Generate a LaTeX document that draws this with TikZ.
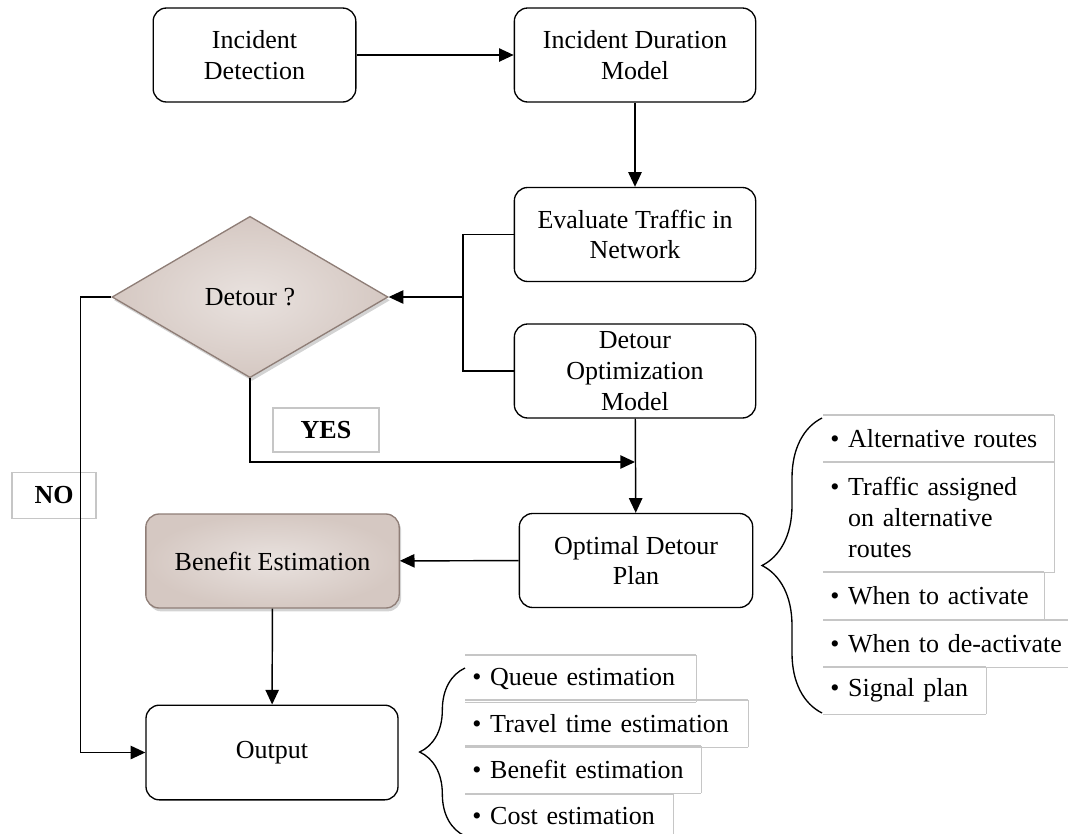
\documentclass[tikz,border=0pt]{standalone}
\usepackage{fontspec}
\setmainfont{Liberation Serif}
\usetikzlibrary{arrows.meta,shapes.geometric,shadows,decorations.pathreplacing}

\definecolor{taupe}{HTML}{D5C8C2}
\definecolor{taupelight}{HTML}{E9E2DF}
\definecolor{taupeline}{HTML}{8F7E77}
\definecolor{itemgray}{HTML}{C6C6C6}

\begin{document}
\begin{tikzpicture}
      [x=0.75pt,y=-0.75pt,
       every node/.style={font=\fontsize{19.5}{23}\selectfont},
       >={Triangle[length=11pt,width=10pt]},
       line width=1.1pt,
       box/.style={draw,rounded corners=10pt,align=center,minimum width=181pt,minimum height=70.5pt,line width=1pt},
       shadedbox/.style={box,draw=taupeline,shading=radial,inner color=taupelight,outer color=taupe,
         drop shadow={shadow xshift=1.5pt,shadow yshift=-2.5pt,opacity=0.35}},
       tag/.style={draw=itemgray,line width=0.8pt,font=\fontsize{19.5}{23}\selectfont\bfseries},
       itemline/.style={draw=itemgray,line width=0.8pt},
       item/.style={anchor=north west,inner xsep=5pt,inner ysep=0pt,align=left,minimum height=34.5pt,
         append after command={(\tikzlastnode.north west) edge[itemline] (\tikzlastnode.north east)
           (\tikzlastnode.north east) edge[itemline] (\tikzlastnode.south east)
           (\tikzlastnode.south east) edge[itemline] (\tikzlastnode.south west)}},
       curly/.style={decorate,decoration={brace,amplitude=#1},line width=1pt}]
      \useasboundingbox (0,0) rectangle (1068,833);

      \node [box,minimum width=152pt] (incdet) at (254.5,55) {Incident\\Detection};
      \node [box] (incdur) at (635,55) {Incident Duration\\Model};
      \node [box] (evaltraf) at (635,234.5) {Evaluate Traffic in\\Network};
      \node [box] (detopt) at (635,371) {Detour\\Optimization\\Model};
      \node [box,minimum width=175pt] (optplan) at (636,560.5) {Optimal Detour\\Plan};
      \node [shadedbox,minimum width=190pt] (benefit) at (272.5,561) {Benefit Estimation};
      \node [box,minimum width=189pt,minimum height=71pt] (output) at (272,752.5) {Output};
      \node [diamond,draw=taupeline,line width=1pt,shading=radial,inner color=taupelight,outer color=taupe,
        drop shadow={shadow xshift=1.5pt,shadow yshift=-2.5pt,opacity=0.35},
        minimum width=207pt,minimum height=121pt,aspect=1.7,inner sep=0pt] (detour) at (250,297) {Detour ?};

      \node [tag,minimum width=79.5pt,minimum height=33pt] (yes) at (326,430) {YES};
      \node [tag,minimum width=63pt,minimum height=34pt] (no) at (54,495.5) {NO};

      \coordinate (fork) at (463,297);
      \coordinate (join) at (635,462);

      \foreach \from/\to in {incdet/incdur, incdur/evaltraf, detopt/optplan, optplan/benefit, benefit/output}
      \draw [->] (\from) -- (\to);

      \draw (evaltraf.west) -| (fork) |- (detopt.west);
      \draw [->] (fork) -- (detour.east);
      \draw [->] (detour.south) |- (join);
      \draw [->] (detour.west) -- ++(-31,0) |- (output.west);

      \node [item,text width=162.5pt] (altroutes) at (823,415) {\textbullet\ Alternative routes};
      \node [item,text width=162.5pt,minimum height=82pt] (assigned) at (823,462)
        {\textbullet\ Traffic assigned\\\phantom{\textbullet\ }on alternative\\\phantom{\textbullet\ }routes};
      \node [item,text width=155pt] (activate) at (823,572) {\textbullet\ When to activate};
      \node [item,text width=174pt] (deactivate) at (823,620) {\textbullet\ When to de-activate};
      \node [item,text width=111.5pt] (signal) at (823,667) {\textbullet\ Signal plan};
      \draw [curly=45pt] (822,713) -- (822,418);

      \node [item,text width=162.5pt] (queue) at (465,655) {\textbullet\ Queue estimation};
      \node [item,text width=201.5pt] (travel) at (465,700) {\textbullet\ Travel time estimation};
      \node [item,text width=166pt] (benefitest) at (465,746) {\textbullet\ Benefit estimation};
      \node [item,text width=145pt,minimum height=31.5pt] (cost) at (465,794) {\textbullet\ Cost estimation};
      \draw [curly=34pt] (465,836) -- (465,668);
    \end{tikzpicture}
\end{document}
